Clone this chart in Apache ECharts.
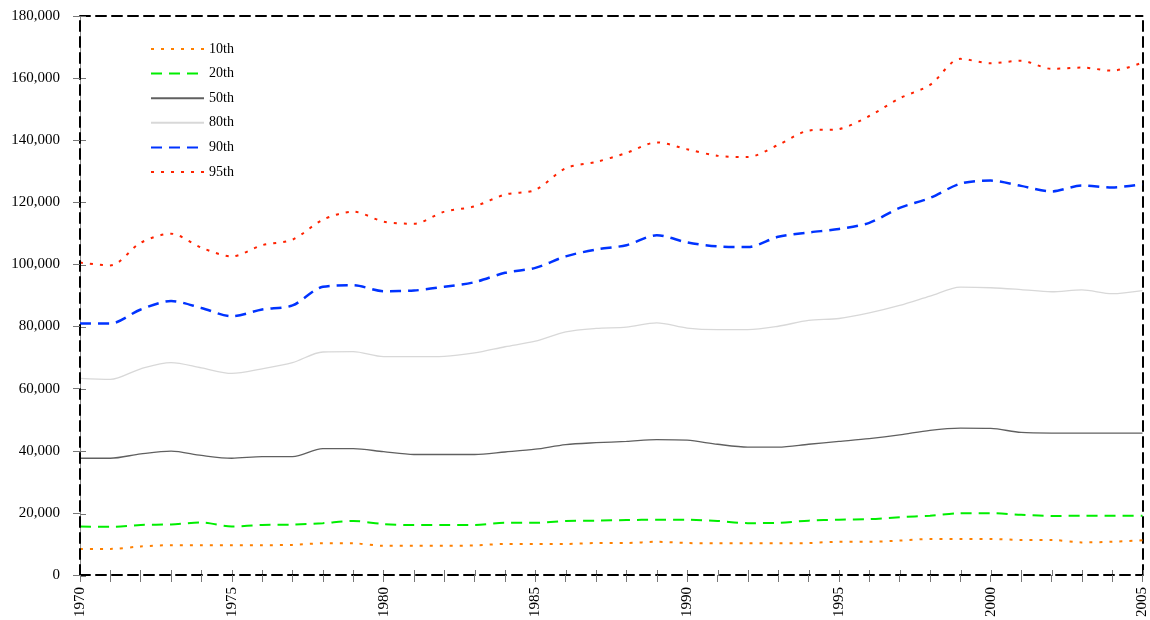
<!DOCTYPE html>
<html>
<head>
<meta charset="utf-8">
<script src="https://cdn.jsdelivr.net/npm/echarts@6/dist/echarts.min.js"></script>
<style>
html,body{margin:0;padding:0;background:#fff;}
#chart{width:1150px;height:620px;}
</style>
</head>
<body>
<div id="chart"></div>
<script>
const years = [];
for (let y = 1970; y <= 2005; y++) years.push(String(y));

const seriesNames = ['10th', '20th', '50th', '80th', '90th', '95th'];

const p10 = [8400, 8400, 9200, 9600, 9600, 9600, 9600, 9700, 10200, 10200, 9400, 9400, 9400, 9500, 10000, 10000, 10000, 10300, 10300, 10700, 10300, 10200, 10200, 10200, 10300, 10700, 10700, 11100, 11600, 11600, 11600, 11300, 11300, 10500, 10700, 11200];
const p20 = [15600, 15500, 16100, 16300, 16900, 15600, 16100, 16200, 16700, 17400, 16400, 16100, 16100, 16100, 16800, 16800, 17400, 17500, 17700, 17800, 17800, 17400, 16700, 16800, 17500, 17800, 18000, 18600, 19100, 19900, 19900, 19400, 19000, 19100, 19100, 19100];
const p50 = [37600, 37600, 39000, 39900, 38500, 37600, 38100, 38100, 40700, 40700, 39700, 38800, 38800, 38800, 39600, 40500, 42000, 42600, 43000, 43600, 43400, 42100, 41200, 41200, 42100, 43000, 43900, 45100, 46600, 47300, 47200, 45900, 45700, 45700, 45700, 45700];
const p80 = [63300, 63000, 66400, 68400, 66700, 64900, 66400, 68400, 71800, 71900, 70300, 70300, 70400, 71500, 73500, 75300, 78300, 79400, 79800, 81200, 79500, 79000, 79000, 80100, 82000, 82600, 84400, 86800, 89800, 92700, 92500, 91900, 91200, 91800, 90600, 91600];
const p90 = [81000, 81000, 85500, 88200, 86000, 83300, 85500, 86800, 92800, 93300, 91400, 91600, 92800, 94300, 97300, 98900, 102600, 104800, 106200, 109400, 107100, 105800, 105600, 108900, 110300, 111400, 113400, 118200, 121400, 126000, 127000, 125300, 123500, 125400, 124800, 125800];
const p95 = [100600, 99700, 107000, 109900, 105400, 102600, 106200, 108000, 114400, 117000, 113800, 113100, 117000, 118700, 122500, 124000, 131000, 133000, 135900, 139300, 137100, 135000, 134600, 138500, 143100, 143600, 147800, 153500, 157800, 166200, 164800, 165600, 163000, 163400, 162400, 165000];

const values = [p10, p20, p50, p80, p90, p95];
const colors = ['#FF8000', '#00EE00', '#606060', '#D8D8D8', '#0033FF', '#FF2200'];
const dashes = [[3, 7], [11, 7], 'solid', 'solid', [11, 7], [3, 7]];
const widths = [2, 2, 1.3, 1.3, 2.5, 2];

const serif = 'Liberation Serif, Times New Roman, serif';
const chart = echarts.init(document.getElementById('chart'), null, {renderer: 'canvas'});

const series = seriesNames.map((n, i) => ({
  name: n,
  type: 'line',
  data: values[i],
  xAxisIndex: 0,
  yAxisIndex: 0,
  symbol: 'none',
  smooth: 0.3,
  color: colors[i],
  lineStyle: {color: colors[i], width: widths[i], type: dashes[i]},
  z: 3
}));

const gridRect = {left: 80, right: 7, top: 16, bottom: 44, containLabel: false};
const dashedBorder = {show: true, onZero: false, lineStyle: {color: '#000', width: 2, type: [10, 6]}};
const tickStyle = {color: '#777', width: 1};

chart.setOption({
  animation: false,
  backgroundColor: '#fff',
  grid: [Object.assign({}, gridRect), Object.assign({}, gridRect)],
  legend: {
    orient: 'vertical',
    left: 145,
    top: 37,
    itemWidth: 53,
    itemHeight: 14,
    itemGap: 10.6,
    itemStyle: {opacity: 0},
    textStyle: {fontFamily: serif, fontSize: 14, color: '#000', lineHeight: 14},
    data: seriesNames
  },
  xAxis: [
    {
      gridIndex: 0, type: 'category', data: years, boundaryGap: false, position: 'bottom',
      axisLine: dashedBorder,
      axisTick: {show: true, interval: 0, length: 7, lineStyle: tickStyle},
      axisLabel: {interval: 4, rotate: 90, margin: 12, fontFamily: serif, fontSize: 15, color: '#000'},
      splitLine: {show: false}, z: 5
    },
    {
      gridIndex: 0, type: 'category', data: years, boundaryGap: false, position: 'top',
      axisLine: dashedBorder,
      axisTick: {show: false}, axisLabel: {show: false}, splitLine: {show: false}
    },
    {
      gridIndex: 1, type: 'category', data: years, boundaryGap: false, position: 'bottom',
      axisLine: {show: false, onZero: false},
      axisTick: {show: true, inside: true, interval: 0, length: 6, lineStyle: tickStyle},
      axisLabel: {show: false}, splitLine: {show: false}
    }
  ],
  yAxis: [
    {
      gridIndex: 0, type: 'value', min: 0, max: 180000, interval: 20000, position: 'left',
      axisLine: dashedBorder,
      axisTick: {show: true, length: 7, lineStyle: tickStyle},
      axisLabel: {margin: 20, fontFamily: serif, fontSize: 15, color: '#000',
        formatter: v => v.toLocaleString('en-US')},
      splitLine: {show: false}, z: 5
    },
    {
      gridIndex: 0, type: 'value', min: 0, max: 180000, interval: 20000, position: 'right',
      axisLine: dashedBorder,
      axisTick: {show: false}, axisLabel: {show: false}, splitLine: {show: false}
    },
    {
      gridIndex: 1, type: 'value', min: 0, max: 180000, interval: 20000, position: 'left',
      axisLine: {show: true, onZero: false, lineStyle: {color: '#888', width: 1}},
      axisTick: {show: true, inside: true, length: 6, lineStyle: tickStyle},
      axisLabel: {show: false}, splitLine: {show: false}
    }
  ],
  series: series
});
</script>
</body>
</html>
